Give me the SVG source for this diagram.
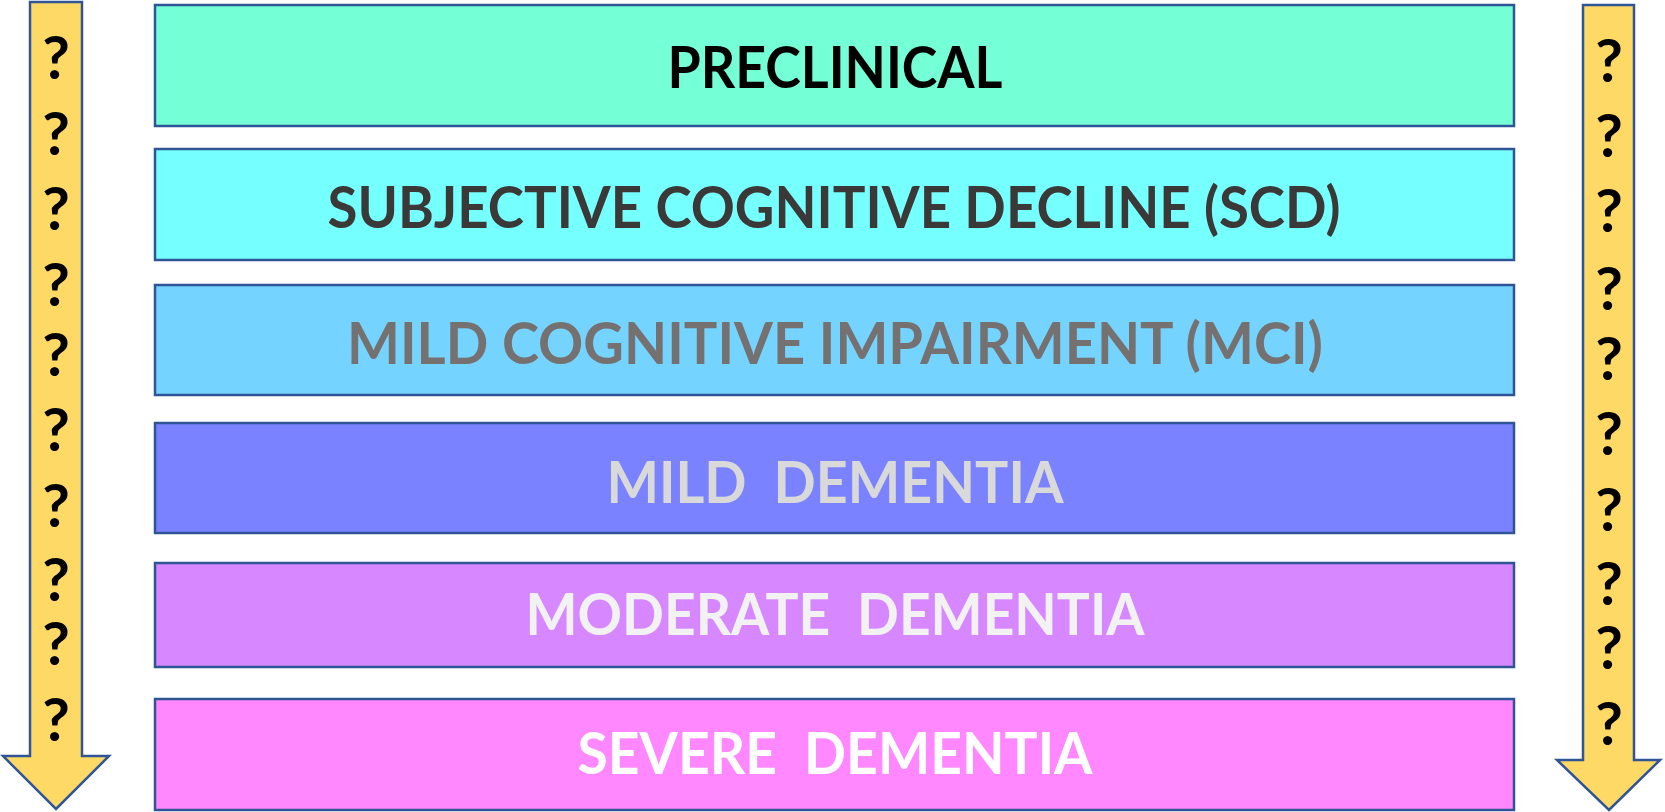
<svg xmlns="http://www.w3.org/2000/svg" width="1665" height="812" viewBox="0 0 1665 812">
  <style>
    .stage { stroke: #2F5597; stroke-width: 2.5; }
    .label { font-family: Lato, "Open Sans", "Liberation Sans", sans-serif; font-weight: 700; font-size: 58px; text-anchor: middle; white-space: pre; }
    .arrow { fill: #FFD966; stroke: #2F5597; stroke-width: 2.5; stroke-linejoin: miter; }
    .q { font-family: Lato, "Open Sans", "Liberation Sans", sans-serif; font-weight: 700; font-size: 60px; text-anchor: middle; fill: #000000; }
  </style>

  <rect width="1665" height="812" fill="#FFFFFF"/>

  <!-- Block arrows running down both sides -->
  <g id="arrows">
    <g id="arrow-left">
      <path class="arrow" d="M30,2 H82 V756 H109 L56,809 L3,756 H30 Z"/>
      <text class="q" x="56" y="79">?</text>
      <text class="q" x="56" y="155">?</text>
      <text class="q" x="56" y="230">?</text>
      <text class="q" x="56" y="306">?</text>
      <text class="q" x="56" y="376">?</text>
      <text class="q" x="56" y="451">?</text>
      <text class="q" x="56" y="527">?</text>
      <text class="q" x="56" y="601">?</text>
      <text class="q" x="56" y="665">?</text>
      <text class="q" x="56" y="741">?</text>
    </g>
    <g id="arrow-right">
      <path class="arrow" d="M1583,5 H1634 V760 H1660 L1609,810 L1557,760 H1583 Z"/>
      <text class="q" x="1609" y="82">?</text>
      <text class="q" x="1609" y="157">?</text>
      <text class="q" x="1609" y="232">?</text>
      <text class="q" x="1609" y="310">?</text>
      <text class="q" x="1609" y="380">?</text>
      <text class="q" x="1609" y="455">?</text>
      <text class="q" x="1609" y="531">?</text>
      <text class="q" x="1609" y="605">?</text>
      <text class="q" x="1609" y="669">?</text>
      <text class="q" x="1609" y="745">?</text>
    </g>
  </g>

  <!-- Disease stages, top to bottom -->
  <g id="stage-preclinical">
    <rect class="stage" x="155" y="5" width="1359" height="121" fill="#75FFD6"/>
    <text class="label" x="835" y="88" fill="#000000" textLength="335" lengthAdjust="spacingAndGlyphs">PRECLINICAL</text>
  </g>
  <g id="stage-scd">
    <rect class="stage" x="155" y="149" width="1359" height="111" fill="#75FFFF"/>
    <text class="label" x="834" y="228" fill="#3B3838" textLength="1013" lengthAdjust="spacingAndGlyphs">SUBJECTIVE COGNITIVE DECLINE (SCD)</text>
  </g>
  <g id="stage-mci">
    <rect class="stage" x="155" y="285" width="1359" height="110" fill="#75D3FF"/>
    <text class="label" x="835" y="364" fill="#767171" textLength="976" lengthAdjust="spacingAndGlyphs">MILD COGNITIVE IMPAIRMENT (MCI)</text>
  </g>
  <g id="stage-mild">
    <rect class="stage" x="155" y="423" width="1359" height="110" fill="#7B82FF"/>
    <text class="label" x="835" y="503" fill="#D9D9D9" textLength="457" lengthAdjust="spacingAndGlyphs">MILD  DEMENTIA</text>
  </g>
  <g id="stage-moderate">
    <rect class="stage" x="155" y="563" width="1359" height="104" fill="#D787FF"/>
    <text class="label" x="835" y="635" fill="#F2F2F2" textLength="619" lengthAdjust="spacingAndGlyphs">MODERATE  DEMENTIA</text>
  </g>
  <g id="stage-severe">
    <rect class="stage" x="155" y="699" width="1359" height="111" fill="#FF87FF"/>
    <text class="label" x="835" y="774" fill="#FFFFFF" textLength="515" lengthAdjust="spacingAndGlyphs">SEVERE  DEMENTIA</text>
  </g>
</svg>
